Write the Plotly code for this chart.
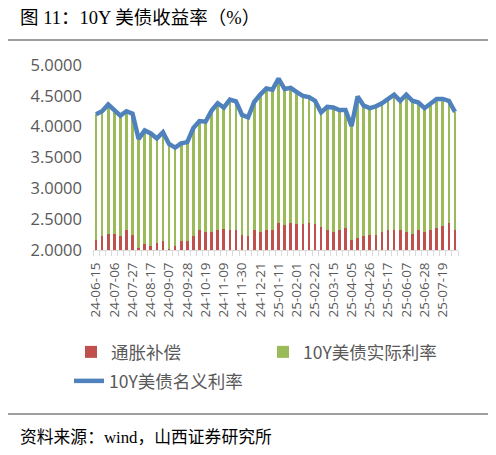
import plotly.graph_objects as go
import pandas as pd

# weekly dates (Saturday labels), 60 weeks starting 24-06-15
dates = [d.strftime("%y-%m-%d") for d in pd.date_range("2024-06-15", periods=60, freq="7D")]

# 10Y nominal yield (%)
nominal = [4.20, 4.25, 4.36, 4.28, 4.18, 4.25, 4.21, 3.80, 3.94, 3.89,
           3.81, 3.91, 3.72, 3.66, 3.73, 3.75, 3.98, 4.09, 4.08, 4.26,
           4.38, 4.31, 4.44, 4.41, 4.19, 4.15, 4.40, 4.52, 4.62, 4.60,
           4.78, 4.61, 4.63, 4.56, 4.50, 4.48, 4.42, 4.23, 4.32, 4.31,
           4.27, 4.27, 4.01, 4.49, 4.34, 4.30, 4.33, 4.38, 4.44, 4.52,
           4.42, 4.52, 4.42, 4.39, 4.30, 4.37, 4.45, 4.45, 4.42, 4.24]

# inflation compensation (breakeven, %)
inflation = [2.16, 2.22, 2.26, 2.26, 2.22, 2.32, 2.25, 2.04, 2.09, 2.07,
             2.12, 2.14, 2.02, 2.07, 2.14, 2.14, 2.22, 2.32, 2.30, 2.29,
             2.32, 2.34, 2.32, 2.32, 2.25, 2.22, 2.32, 2.29, 2.32, 2.32,
             2.43, 2.40, 2.43, 2.42, 2.42, 2.43, 2.42, 2.37, 2.32, 2.29,
             2.32, 2.36, 2.17, 2.19, 2.22, 2.25, 2.25, 2.29, 2.32, 2.32,
             2.32, 2.30, 2.26, 2.32, 2.29, 2.32, 2.36, 2.39, 2.43, 2.32]

# real yield (stacked on top of inflation compensation)
real = [2.04, 2.03, 2.10, 2.02, 1.96, 1.93, 1.96, 1.76, 1.85, 1.82,
        1.69, 1.77, 1.70, 1.59, 1.59, 1.61, 1.76, 1.77, 1.78, 1.97,
        2.06, 1.97, 2.12, 2.09, 1.94, 1.93, 2.08, 2.23, 2.30, 2.28,
        2.35, 2.21, 2.20, 2.14, 2.08, 2.05, 2.00, 1.86, 2.00, 2.02,
        1.95, 1.91, 1.84, 2.30, 2.12, 2.05, 2.08, 2.09, 2.12, 2.20,
        2.10, 2.22, 2.16, 2.07, 2.01, 2.05, 2.09, 2.06, 1.99, 1.92]

tick_labels = [d if i % 3 == 0 else "" for i, d in enumerate(dates)]

# the page puts the figure 8px in from the top-left corner
OFF = 8
W, H = 496 - OFF, 455 - OFF
# plot area in screenshot pixels: x 93..458, y 65..250
ML, MR, MT, MB = 93 - OFF, 496 - 458, 65 - OFF, 455 - 250
PW, PH = W - ML - MR, H - MT - MB

def px(q):  # screenshot x -> paper
    return (q - OFF - ML) / PW

def py(p):  # screenshot y -> paper
    return (H - MB - (p - OFF)) / PH

CJK = "Noto Sans CJK SC"
GREY = "#595959"

fig = go.Figure()
fig.add_trace(go.Bar(x=dates, y=inflation, name="通胀补偿",
                     marker=dict(color="#C0504D", line_width=0), legend="legend"))
fig.add_trace(go.Bar(x=dates, y=real, name="10Y美债实际利率",
                     marker=dict(color="#9BBB59", line_width=0), legend="legend2"))
fig.add_trace(go.Scatter(x=dates, y=nominal, name="10Y美债名义利率", mode="lines",
                         line=dict(color="#4F81BD", width=4.5), legend="legend3"))

legfont = dict(family=CJK, size=17.5, color=GREY)
fig.update_layout(
    width=W, height=H,
    margin=dict(l=ML, r=MR, t=MT, b=MB, autoexpand=False),
    paper_bgcolor="white", plot_bgcolor="white",
    barmode="stack", bargap=0.55,
    showlegend=True,
    font=dict(family=CJK, color=GREY),
    legend=dict(x=px(71), y=py(352), xanchor="left", yanchor="middle",
                font=legfont, bgcolor="rgba(0,0,0,0)"),
    legend2=dict(x=px(263), y=py(352), xanchor="left", yanchor="middle",
                 font=legfont, bgcolor="rgba(0,0,0,0)"),
    legend3=dict(x=px(69), y=py(381), xanchor="left", yanchor="middle",
                 font=legfont, bgcolor="rgba(0,0,0,0)"),
)
fig.update_xaxes(type="category", tickmode="array", tickvals=dates, ticktext=tick_labels,
                 tickangle=-90, tickfont=dict(family="Open Sans", size=13.5, color=GREY),
                 ticklabelstandoff=6,
                 showline=True, linecolor="#D9D9D9", linewidth=1,
                 ticks="outside", ticklen=5, tickcolor="#D9D9D9", tickson="boundaries",
                 showgrid=False, fixedrange=True, automargin=False)
fig.update_yaxes(range=[2, 5], tick0=2, dtick=0.5, tickformat=".4f",
                 tickfont=dict(family="Open Sans", size=16.5, color=GREY),
                 ticklabelstandoff=10,
                 showgrid=False, zeroline=False, showline=False, ticks="", fixedrange=True,
                 automargin=False)

# title, rules and source
fig.add_annotation(text="图 11：10Y 美债收益率（%）", xref="paper", yref="paper",
                   x=px(18), y=py(18), xanchor="left", yanchor="middle", showarrow=False,
                   font=dict(family="Liberation Serif, Noto Sans CJK SC", size=18.5, color="black"))
fig.add_annotation(text="资料来源：wind，山西证券研究所", xref="paper", yref="paper",
                   x=px(18), y=py(437), xanchor="left", yanchor="middle", showarrow=False,
                   font=dict(family="Liberation Serif, Noto Sans CJK SC", size=16.8, color="black"))
for yy in (40, 414):
    fig.add_shape(type="line", xref="paper", yref="paper", x0=px(8), x1=px(491),
                  y0=py(yy), y1=py(yy), line=dict(color="#404040", width=1.2))

fig.write_html("out.html")
